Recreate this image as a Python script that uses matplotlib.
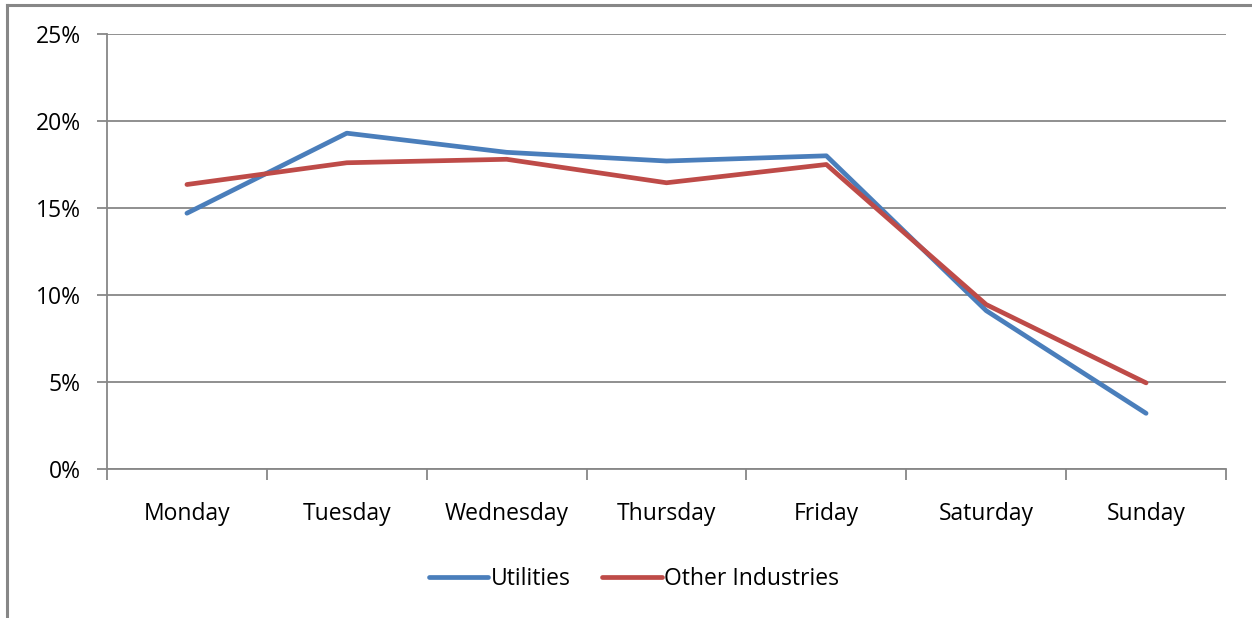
import matplotlib
matplotlib.use('Agg')
import matplotlib.pyplot as plt
from matplotlib.lines import Line2D
from matplotlib.ticker import FuncFormatter, FixedLocator

days = ['Monday', 'Tuesday', 'Wednesday', 'Thursday', 'Friday', 'Saturday', 'Sunday']
utilities = [14.7, 19.3, 18.2, 17.7, 18.0, 9.1, 3.2]
other_industries = [16.35, 17.6, 17.8, 16.45, 17.5, 9.45, 4.95]

plt.rcParams['font.family'] = ['Open Sans', 'DejaVu Sans']

W, H = 1252, 618
fig = plt.figure(figsize=(W / 100.0, H / 100.0), dpi=100)

# partial frame around the chart area (only left and top visible)
fig.add_artist(Line2D([7.0 / W, 7.0 / W], [0, 1 - 5.0 / H], color='#878787', lw=2.2,
                      transform=fig.transFigure))
fig.add_artist(Line2D([7.0 / W, 1], [1 - 5.0 / H, 1 - 5.0 / H], color='#878787', lw=2.2,
                      transform=fig.transFigure))

left, right, top, bottom = 107, 1226, 34, 469
ax = fig.add_axes([left / W, 1 - bottom / H, (right - left) / W, (bottom - top) / H])

x = list(range(len(days)))
ax.plot(x, utilities, color='#4A7EBB', lw=3.4, solid_capstyle='round', label='Utilities', zorder=3)
ax.plot(x, other_industries, color='#BE4B48', lw=3.4, solid_capstyle='round', label='Other Industries', zorder=3)

ax.set_xlim(-0.5, len(days) - 0.5)
ax.set_ylim(0, 25)
ax.set_yticks([0, 5, 10, 15, 20, 25])
ax.yaxis.set_major_formatter(FuncFormatter(lambda v, p: '%d%%' % v))
ax.grid(axis='y', color='#878787', lw=1.3)
ax.set_axisbelow(True)

ax.set_xticks(x)
ax.set_xticklabels(days)
ax.xaxis.set_minor_locator(FixedLocator([i - 0.5 for i in range(len(days) + 1)]))
ax.tick_params(axis='x', which='major', length=0, pad=24, labelsize=16.5)
ax.tick_params(axis='x', which='minor', length=8, color='#878787', width=1.3)
ax.tick_params(axis='y', length=7, color='#878787', width=1.3, labelsize=16.5, pad=12)

for s in ['top', 'right']:
    ax.spines[s].set_visible(False)
for s in ['left', 'bottom']:
    ax.spines[s].set_color('#878787')
    ax.spines[s].set_linewidth(1.3)

fig.legend(loc='center', bbox_to_anchor=(634.0 / W, 1 - 579.0 / H), ncol=2, frameon=False,
           fontsize=16.5, handlelength=2.6, handletextpad=0.1, columnspacing=1.4)

fig.savefig('out.png', dpi=100, facecolor='white')
